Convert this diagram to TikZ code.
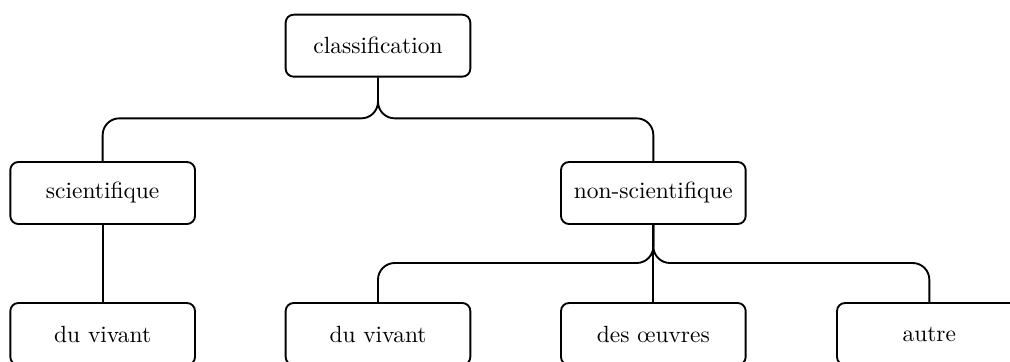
\documentclass[tikz,border=0pt]{standalone}
\usepackage{tikz}

\begin{document}
\begin{tikzpicture}[
    box/.style = {draw, rectangle, rounded corners=1.2mm,
        minimum width = 2.77 cm, minimum height = 0.93 cm, line width=0.8pt},
    conn/.style = {line width=0.8pt, rounded corners=2.5mm}]

    \clip (0,0) rectangle (15.15,5.415);

    % top node
    \node[box] (classif) at (5.67,4.73) {classification};

    % second level
    \node[box] (scient) at (1.54,2.52) {scientifique};
    \node[box] (nonscient) at (9.80,2.52) {non-scientifique};

    % third level
    \node[box] (vivantA) at (1.54,0.405) {du vivant};
    \node[box] (vivantB) at (5.67,0.405) {du vivant};
    \node[box] (oeuvres) at (9.80,0.405) {des œuvres};
    \node[box] (autre) at (13.94,0.405) {autre};

    % split points
    \coordinate (split1) at (5.67,3.64);
    \coordinate (split2) at (9.80,1.47);

    % drawing connectors
    \draw[conn] (classif.south) -- (split1) -| (scient.north);
    \draw[conn] (classif.south) -- (split1) -| (nonscient.north);
    \draw[conn] (scient.south) -- (vivantA.north);
    \draw[conn] (nonscient.south) -- (split2) -| (vivantB.north);
    \draw[conn] (nonscient.south) -- (oeuvres.north);
    \draw[conn] (nonscient.south) -- (split2) -| (autre.north);

\end{tikzpicture}
\end{document}
